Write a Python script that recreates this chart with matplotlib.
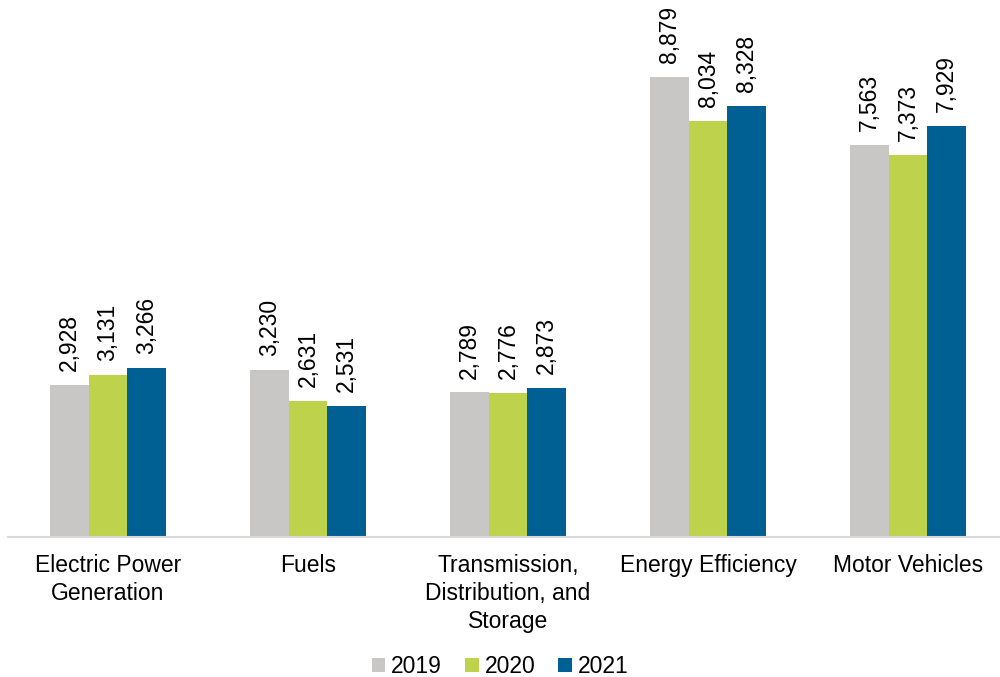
import matplotlib
matplotlib.use("Agg")
import matplotlib.pyplot as plt
import numpy as np

plt.rcParams["font.family"] = ["Liberation Sans", "DejaVu Sans"]

categories = ["Electric Power\nGeneration", "Fuels",
              "Transmission,\nDistribution, and\nStorage",
              "Energy Efficiency", "Motor Vehicles"]
years = ["2019", "2020", "2021"]
values_2019 = [2928, 3230, 2789, 8879, 7563]
values_2020 = [3131, 2631, 2776, 8034, 7373]
values_2021 = [3266, 2531, 2873, 8328, 7929]
colors = ["#C8C7C6", "#BED24C", "#005F93"]

fig = plt.figure(figsize=(10, 6.77), dpi=100)
ax = fig.add_axes([0.008, 0.207, 0.992, 0.765])

x = np.arange(len(categories))
width = 0.193
series = [values_2019, values_2020, values_2021]
for i, (vals, year, col) in enumerate(zip(series, years, colors)):
    pos = x + (i - 1) * width
    ax.bar(pos, vals, width, color=col, label=year)
    for px, v in zip(pos, vals):
        ax.annotate(f"{v:,}", (px, v), xytext=(0, 10), textcoords="offset points",
                    rotation=90, ha="center", va="bottom", fontsize=16.5)

ax.set_xlim(-0.5, 4.46)
ax.set_ylim(0, 10000)
ax.set_xticks(x)
ax.set_xticklabels(categories, fontsize=16.5, linespacing=1.3)
ax.tick_params(axis="x", length=0, pad=12)
ax.set_yticks([])
for s in ["top", "right", "left"]:
    ax.spines[s].set_visible(False)
ax.spines["bottom"].set_color("#D9D9D9")
ax.spines["bottom"].set_linewidth(1.5)

fig.legend(loc="lower center", bbox_to_anchor=(0.5, -0.032), ncol=3, frameon=False,
           fontsize=16.5, handlelength=0.6, handleheight=0.6, handletextpad=0.25,
           columnspacing=1.0)

fig.savefig("out.png")
